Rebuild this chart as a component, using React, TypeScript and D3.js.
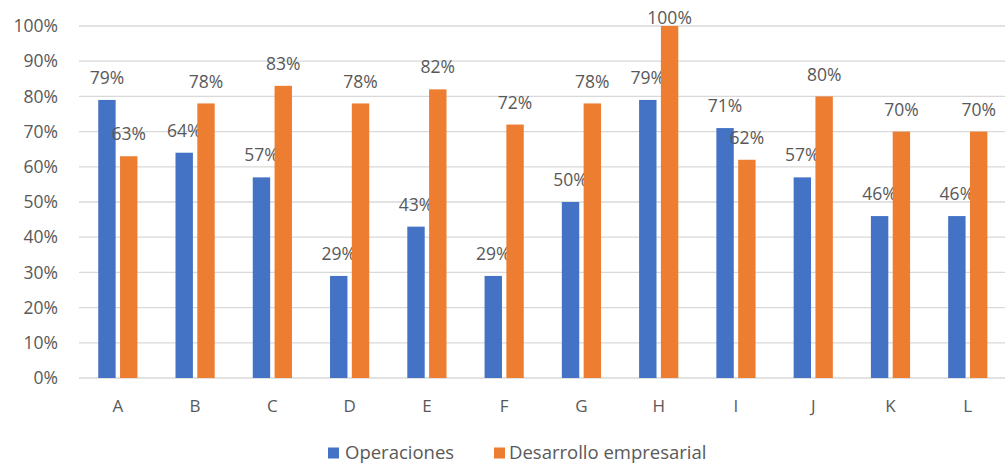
import React from "react";
import * as d3 from "d3";

const categories = ["A", "B", "C", "D", "E", "F", "G", "H", "I", "J", "K", "L"];
const operaciones = [79, 64, 57, 29, 43, 29, 50, 79, 71, 57, 46, 46];
const desarrollo = [63, 78, 83, 78, 82, 72, 78, 100, 62, 80, 70, 70];
const yTicks = [0, 10, 20, 30, 40, 50, 60, 70, 80, 90, 100];
const seriesNames = ["Operaciones", "Desarrollo empresarial"];
const colors = ["#4472C4", "#ED7D31"];

const W = 1005;
const H = 468;
const FONT = "'Open Sans', 'Noto Sans', sans-serif";
const TEXT = "#595959";

export default function App() {
  const x = d3.scaleBand<string>().domain(categories).range([79.2, 1006.4]).paddingInner(0).paddingOuter(0);
  const y = d3.scaleLinear().domain([0, 100]).range([378, 26]);
  const barW = 17.4;
  const gap = 4.4;
  const series = [operaciones, desarrollo];

  return (
    <svg width={W} height={H} style={{ position: "fixed", left: 0, top: 0, background: "#fff" }} fontFamily={FONT}>
      <rect x={0} y={0} width={W} height={H} fill="#fff" />
      {yTicks.map((t) => (
        <g key={t}>
          <line x1={79} x2={W} y1={y(t)} y2={y(t)} stroke="#d9d9d9" strokeWidth={1.3} />
          <text x={58} y={y(t)} dy="0.35em" textAnchor="end" fontSize={17.5} fill={TEXT}>
            {t}%
          </text>
        </g>
      ))}
      {categories.map((c, i) => {
        const cx = (x(c) as number) + x.bandwidth() / 2;
        return (
          <g key={c}>
            {series.map((s, si) => {
              const bx = si === 0 ? cx - gap / 2 - barW : cx + gap / 2;
              const top = y(s[i]);
              const ly = Math.max(top - 22, 18);
              return (
                <g key={si}>
                  <rect x={bx} y={top} width={barW} height={y(0) - top} fill={colors[si]} />
                  <text x={bx + barW / 2} y={ly} dy="0.35em" textAnchor="middle" fontSize={17.5} fill={TEXT}>
                    {s[i]}%
                  </text>
                </g>
              );
            })}
            <text x={cx} y={406} dy="0.35em" textAnchor="middle" fontSize={17} fill={TEXT}>
              {c}
            </text>
          </g>
        );
      })}
      <g>
        <rect x={328} y={447.5} width={11} height={11} fill={colors[0]} />
        <text x={345} y={453} dy="0.35em" fontSize={18.5} fill={TEXT}>
          {seriesNames[0]}
        </text>
        <rect x={494} y={447.5} width={11} height={11} fill={colors[1]} />
        <text x={509} y={453} dy="0.35em" fontSize={18.5} fill={TEXT}>
          {seriesNames[1]}
        </text>
      </g>
    </svg>
  );
}
